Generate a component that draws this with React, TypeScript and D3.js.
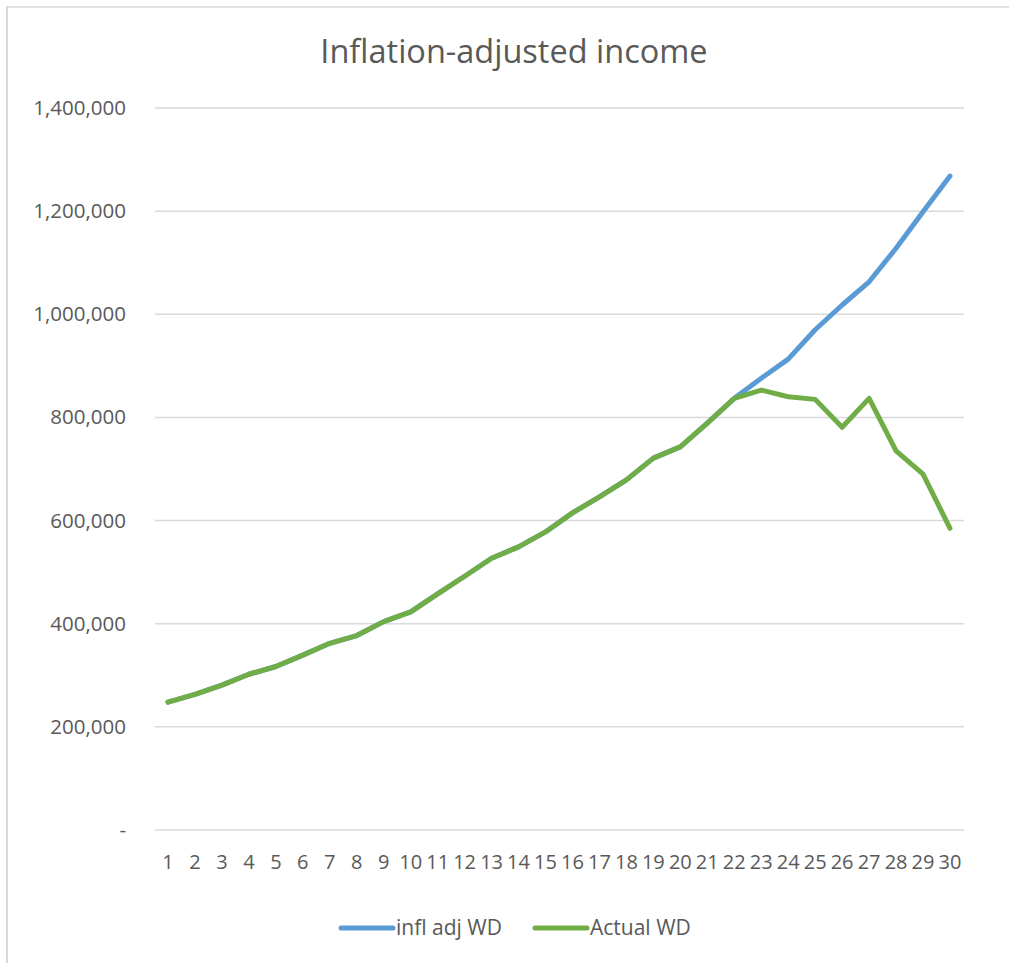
import React from "react";
import * as d3 from "d3";

const years: number[] = Array.from({ length: 30 }, (_, i) => i + 1);
const inflAdjWD: number[] = [
  248000, 263000, 281000, 302000, 317000, 339000, 362000, 377000, 404000, 423000,
  458000, 492000, 527000, 549000, 578000, 615000, 646000, 679000, 721000, 743000,
  789000, 837000, 876000, 913000, 970000, 1018000, 1063000, 1128000, 1199000, 1268000,
];
const actualWD: number[] = [
  248000, 263000, 281000, 302000, 317000, 339000, 362000, 377000, 404000, 423000,
  458000, 492000, 527000, 549000, 578000, 615000, 646000, 679000, 721000, 743000,
  789000, 837000, 853000, 840000, 835000, 781000, 837000, 735000, 690000, 585000,
];
const yTicks: number[] = [0, 200000, 400000, 600000, 800000, 1000000, 1200000, 1400000];
const seriesNames: string[] = ["infl adj WD", "Actual WD"];
const seriesColors: string[] = ["#5B9BD5", "#70AD47"];

const W = 1009;
const H = 963;
const FONT = "'Open Sans', 'Noto Sans', sans-serif";
const TEXT = "#595959";
const GRID = "#D9D9D9";

export default function App() {
  const x = d3.scalePoint<number>().domain(years).range([168, 950]);
  const y = d3.scaleLinear().domain([0, 1400000]).range([830, 108]);
  const line = d3
    .line<number>()
    .x((_, i) => x(years[i]) as number)
    .y((d) => y(d));
  const fmt = d3.format(",");
  const series = [inflAdjWD, actualWD];

  return (
    <svg
      width={W}
      height={H}
      style={{ position: "absolute", left: 0, top: 0, background: "#fff" }}
      fontFamily={FONT}
    >
      <rect x={0} y={0} width={W} height={H} fill="#fff" />
      <line x1={6} x2={W} y1={7} y2={7} stroke={GRID} strokeWidth={1.5} />
      <line x1={7} x2={7} y1={7} y2={H} stroke={GRID} strokeWidth={2} />
      <text x={514} y={63} textAnchor="middle" fontSize={32.5} fill={TEXT}>
        Inflation-adjusted income
      </text>
      {yTicks.map((t) => (
        <g key={t}>
          <line x1={155} x2={964} y1={y(t)} y2={y(t)} stroke={GRID} strokeWidth={1.5} />
          <text x={126} y={y(t) + 7} textAnchor="end" fontSize={20.5} fill={TEXT}>
            {t === 0 ? "-" : fmt(t)}
          </text>
        </g>
      ))}
      {years.map((yr) => (
        <text key={yr} x={x(yr) as number} y={869} textAnchor="middle" fontSize={20} fill={TEXT}>
          {yr}
        </text>
      ))}
      {series.map((s, i) => (
        <path
          key={i}
          d={line(s) || ""}
          fill="none"
          stroke={seriesColors[i]}
          strokeWidth={5}
          strokeLinecap="round"
          strokeLinejoin="round"
        />
      ))}
      {seriesNames.map((n, i) => {
        const lx = i === 0 ? 341 : 535;
        return (
          <g key={n}>
            <line x1={lx} x2={lx + 52} y1={928} y2={928} stroke={seriesColors[i]} strokeWidth={5} strokeLinecap="round" />
            <text x={lx + 55} y={935} fontSize={21} fill={TEXT}>
              {n}
            </text>
          </g>
        );
      })}
    </svg>
  );
}
